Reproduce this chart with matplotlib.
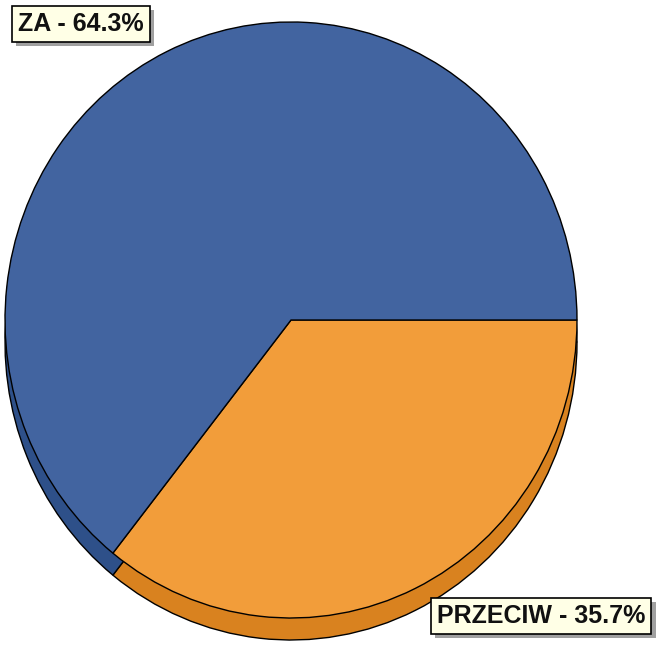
import numpy as np
import matplotlib
matplotlib.use('Agg')
import matplotlib.pyplot as plt
import matplotlib.patheffects as pe
from matplotlib import font_manager

labels = ['PRZECIW', 'ZA']
shares = [35.7, 64.3]
face_colors = ['#F29D3A', '#4264A0']
rim_colors = ['#D9821F', '#2E5089']

names = {f.name for f in font_manager.fontManager.ttflist}
family = ['Liberation Sans Narrow'] if 'Liberation Sans Narrow' in names else ['Liberation Sans']
family.append('DejaVu Sans')

fig = plt.figure(figsize=(6.63, 6.46), dpi=100)
ax = fig.add_axes([0, 0, 1, 1])

# shadow copy below gives the 3d rim
depth = 22 / 298
ax.pie(shares, colors=rim_colors, startangle=0, counterclock=False,
       center=(0, -depth), radius=1,
       wedgeprops=dict(edgecolor='black', linewidth=1.0))
ax.pie(shares, colors=face_colors, startangle=0, counterclock=False,
       center=(0, 0), radius=1,
       wedgeprops=dict(edgecolor='black', linewidth=1.0))

# pixel mapping: centre at (291, 320), radii 286 x 298
ax.set_aspect('auto')
ax.set_xlim((0 - 291) / 286, (663 - 291) / 286)
ax.set_ylim((320 - 646) / 298, (320 - 0) / 298)
ax.axis('off')

box = dict(boxstyle='square,pad=0.25', facecolor='#FFFFE6', edgecolor='black', linewidth=1.2)
spots = [(541 / 663, 1 - 616 / 646), (81 / 663, 1 - 24 / 646)]
for lab, val, (x, y) in zip(labels, shares, spots):
    t = fig.text(x, y, f'{lab} - {val:.1f}%', ha='center', va='center',
                 fontsize=18, fontweight='bold', family=family, color='#111111',
                 bbox=box)
    t.get_bbox_patch().set_path_effects(
        [pe.SimplePatchShadow(offset=(3, -3), shadow_rgbFace='#888888', alpha=0.8), pe.Normal()])

fig.savefig('out.png', dpi=100)
